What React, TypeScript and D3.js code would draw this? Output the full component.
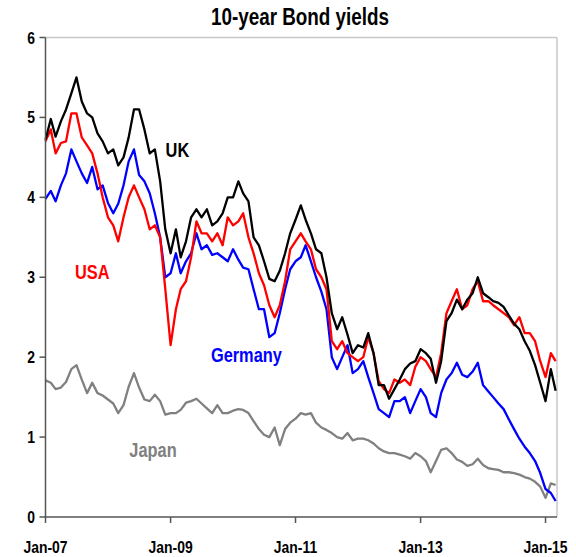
import React from "react";
import * as d3 from "d3";

const title = "10-year Bond yields";
const yTicks = [0, 1, 2, 3, 4, 5, 6];
const xTickYears = [2007, 2009, 2011, 2013, 2015];

// monthly observations, Jan-2007 .. Mar-2015
const months = d3.timeMonth.range(new Date(2007, 0, 1), new Date(2015, 3, 1));

const uk = [
  4.72, 4.98, 4.76, 4.95, 5.1, 5.3, 5.5, 5.2, 5.05, 5.0, 4.8, 4.7,
  4.55, 4.6, 4.4, 4.5, 4.75, 5.1, 5.1, 4.85, 4.55, 4.6, 4.2, 3.6,
  3.3, 3.6, 3.25, 3.45, 3.75, 3.85, 3.75, 3.85, 3.65, 3.7, 3.8, 4.0,
  4.0, 4.2, 4.05, 3.95, 3.5, 3.4, 3.2, 2.98, 2.95, 3.08, 3.3, 3.55,
  3.72, 3.9, 3.72, 3.55, 3.35, 3.3, 3.0, 2.55, 2.35, 2.5, 2.28, 2.05,
  2.15, 2.12, 2.3, 2.05, 1.65, 1.65, 1.48, 1.6, 1.72, 1.85, 1.92, 1.95,
  2.1, 2.05, 1.98, 1.68, 1.95, 2.45, 2.55, 2.72, 2.6, 2.72, 2.8, 3.0,
  2.8, 2.75, 2.7, 2.68, 2.63, 2.52, 2.42, 2.35, 2.2, 2.08, 1.9, 1.68,
  1.45, 1.85, 1.58,
];

const usa = [
  4.7, 4.85, 4.55, 4.68, 4.7, 5.05, 5.05, 4.75, 4.65, 4.55, 4.3, 4.0,
  3.75, 3.65, 3.45, 3.75, 4.0, 4.15, 4.0, 3.85, 3.6, 3.65, 3.5, 2.85,
  2.15, 2.6, 2.85, 2.95, 3.25, 3.7, 3.55, 3.55, 3.45, 3.55, 3.4, 3.75,
  3.65, 3.7, 3.8, 3.5, 3.3, 3.05, 2.9, 2.65, 2.5, 2.65, 2.95, 3.35,
  3.45, 3.55, 3.45, 3.35, 3.1, 3.0, 2.85, 2.2, 2.1, 2.2, 2.05, 2.0,
  1.95, 2.0, 2.25, 2.05, 1.7, 1.6, 1.55, 1.72, 1.68, 1.72, 1.65, 1.88,
  2.0, 1.95, 1.85, 1.75, 2.05, 2.55, 2.7, 2.85, 2.6, 2.65, 2.85, 2.95,
  2.7, 2.7, 2.65, 2.6, 2.55, 2.5, 2.4, 2.5, 2.3, 2.3, 2.2, 1.95,
  1.75, 2.05, 1.95,
];

const germany = [
  3.98, 4.08, 3.95, 4.15, 4.3, 4.6, 4.45, 4.3, 4.18, 4.38, 4.1, 4.15,
  3.93, 3.8, 3.92, 4.15, 4.45, 4.6, 4.28, 4.2, 4.05, 3.8, 3.5, 3.0,
  3.05, 3.3, 3.05, 3.2, 3.3, 3.55, 3.35, 3.4, 3.28, 3.3, 3.25, 3.2,
  3.35, 3.22, 3.12, 3.1, 2.85, 2.6, 2.6, 2.25, 2.3, 2.55, 2.85, 3.1,
  3.2, 3.25, 3.4, 3.2, 3.0, 2.82, 2.6, 2.0, 1.85, 2.0, 2.15, 1.8,
  1.85, 1.95, 1.75, 1.55, 1.35, 1.3, 1.25, 1.45, 1.45, 1.5, 1.3, 1.45,
  1.6, 1.5, 1.3, 1.25, 1.55, 1.72, 1.8, 1.93, 1.78, 1.75, 1.82, 1.93,
  1.65, 1.57, 1.5, 1.42, 1.35, 1.22, 1.1, 0.98, 0.88, 0.8, 0.7, 0.55,
  0.35, 0.3, 0.2,
];

const japan = [
  1.71, 1.68, 1.6, 1.62, 1.69, 1.85, 1.9, 1.72, 1.55, 1.68, 1.55, 1.52,
  1.47, 1.42, 1.3, 1.4, 1.63, 1.8, 1.62, 1.47, 1.45, 1.53, 1.45, 1.28,
  1.3, 1.3, 1.34, 1.43, 1.45, 1.48, 1.42, 1.36, 1.3, 1.4, 1.3, 1.3,
  1.33, 1.35, 1.34, 1.3, 1.2, 1.1, 1.03, 1.0, 1.12, 0.9, 1.1, 1.18,
  1.23, 1.3, 1.28, 1.3, 1.18, 1.12, 1.09, 1.05, 1.0, 0.98, 1.05, 0.96,
  0.98, 0.98, 0.96, 0.92, 0.86, 0.82, 0.8, 0.8, 0.78, 0.76, 0.73, 0.8,
  0.76, 0.7, 0.56, 0.7, 0.84, 0.86, 0.8, 0.72, 0.69, 0.64, 0.66, 0.73,
  0.65, 0.61, 0.6, 0.59, 0.56, 0.56, 0.55, 0.53, 0.5, 0.48, 0.44, 0.38,
  0.24, 0.42, 0.4,
];

const seriesNames = ["Japan", "Germany", "USA", "UK"];
const seriesValues = [japan, germany, usa, uk];
const seriesColors = ["#808080", "#0000ff", "#ff0000", "#000000"];

const W = 576;
const H = 557;
const FONT = "'Liberation Sans', Arial, sans-serif";
const NARROW = 0.82;

function NText(props: {
  x: number;
  y: number;
  size: number;
  bold?: boolean;
  anchor?: "start" | "middle" | "end";
  fill?: string;
  children: React.ReactNode;
}) {
  const { x, y, size, bold, anchor = "start", fill = "#000", children } = props;
  return (
    <text
      transform={`translate(${x},${y}) scale(${NARROW},1)`}
      textAnchor={anchor}
      fontSize={size}
      fontWeight={bold ? "bold" : "normal"}
      fill={fill}
    >
      {children}
    </text>
  );
}

export default function App() {
  const left = 45.5;
  const right = 557;
  const top = 37.5;
  const bottom = 517;

  const x = d3
    .scaleTime()
    .domain([new Date(2007, 0, 1), new Date(2015, 2, 9)])
    .range([left, right]);
  const y = d3.scaleLinear().domain([0, 6]).range([bottom, top]);

  const line = d3
    .line<[Date, number]>()
    .x((d) => x(d[0]))
    .y((d) => y(d[1]));

  const fmt = d3.timeFormat("%b-%y");
  const xTicks = xTickYears.map((yr) => new Date(yr, 0, 1));

  const labels = [
    { name: "UK", date: new Date(2009, 1, 10), v: 4.5, color: "#000000" },
    { name: "USA", date: new Date(2007, 9, 1), v: 2.98, color: "#ff0000" },
    { name: "Germany", date: new Date(2010, 2, 20), v: 1.94, color: "#0000ff" },
    { name: "Japan", date: new Date(2008, 8, 20), v: 0.75, color: "#808080" },
  ];

  return (
    <svg
      width={W}
      height={H}
      style={{ position: "absolute", left: 0, top: 0, background: "#fff" }}
      fontFamily={FONT}
    >
      <rect x={0} y={0} width={W} height={H} fill="#fff" />
      <NText x={300} y={25} size={23} bold anchor="middle">
        {title}
      </NText>

      {/* frame */}
      <line x1={left} x2={right} y1={top} y2={top} stroke="#c8c8c8" strokeWidth={1.5} />
      <line x1={right} x2={right} y1={top} y2={bottom} stroke="#c8c8c8" strokeWidth={1.5} />

      {/* series */}
      {seriesValues.map((vals, i) => (
        <path
          key={seriesNames[i]}
          d={line(vals.map((v, j) => [months[j], v] as [Date, number])) || ""}
          fill="none"
          stroke={seriesColors[i]}
          strokeWidth={2.3}
          strokeLinejoin="round"
        />
      ))}

      {/* y axis */}
      <line x1={left} x2={left} y1={top} y2={bottom} stroke="#555" strokeWidth={1.5} />
      {yTicks.map((t) => (
        <g key={t}>
          <line x1={left - 6} x2={left} y1={y(t)} y2={y(t)} stroke="#555" strokeWidth={1.5} />
          <NText x={35} y={y(t) + 6} size={17} bold anchor="end">
            {t}
          </NText>
        </g>
      ))}

      {/* x axis */}
      <line x1={left} x2={right} y1={bottom} y2={bottom} stroke="#555" strokeWidth={1.5} />
      {xTicks.map((d) => (
        <g key={d.getTime()}>
          <line x1={x(d)} x2={x(d)} y1={bottom} y2={bottom + 6} stroke="#555" strokeWidth={1.5} />
          <NText x={x(d)} y={553} size={17} bold anchor="middle">
            {fmt(d)}
          </NText>
        </g>
      ))}

      {/* series labels */}
      {labels.map((l) => (
        <NText key={l.name} x={x(l.date)} y={y(l.v)} size={20} bold anchor="middle" fill={l.color}>
          {l.name}
        </NText>
      ))}
    </svg>
  );
}
